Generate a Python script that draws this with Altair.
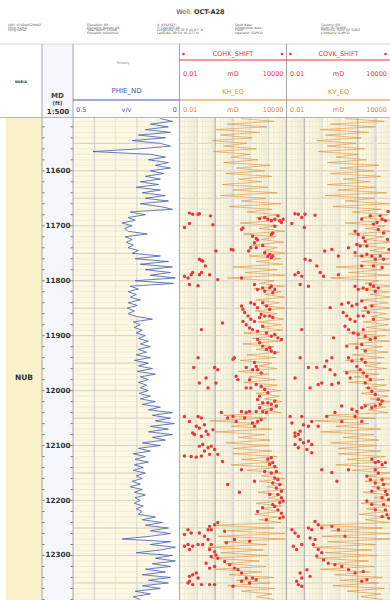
import altair as alt
import pandas as pd

# ---------------------------------------------------------------- data
# Log curves sampled every 5 ft
CURVE_DEPTH = list(range(11505, 12381, 5))

PHIE_ND = [
    0.090, 0.033, 0.137, 0.052, 0.160, 0.042, 0.193, 0.066, 0.222, 0.090,
    0.042, 0.184, 0.406, 0.137, 0.066, 0.146, 0.052, 0.113, 0.042, 0.137,
    0.075, 0.160, 0.090, 0.184, 0.099, 0.203, 0.090, 0.175, 0.066, 0.160,
    0.052, 0.184, 0.090, 0.033, 0.231, 0.160, 0.241, 0.208, 0.269, 0.222,
    0.259, 0.241, 0.151, 0.255, 0.222, 0.250, 0.217, 0.241, 0.193, 0.222,
    0.090, 0.208, 0.052, 0.184, 0.033, 0.160, 0.042, 0.137, 0.019, 0.208,
    0.028, 0.231, 0.193, 0.241, 0.203, 0.231, 0.184, 0.241, 0.198, 0.245,
    0.212, 0.241, 0.203, 0.127, 0.217, 0.184, 0.212, 0.175, 0.203, 0.160,
    0.193, 0.146, 0.184, 0.137, 0.193, 0.155, 0.203, 0.137, 0.212, 0.146,
    0.193, 0.127, 0.198, 0.113, 0.184, 0.146, 0.193, 0.155, 0.184, 0.146,
    0.189, 0.137, 0.184, 0.113, 0.175, 0.090, 0.146, 0.033, 0.127, 0.042,
    0.113, 0.024, 0.137, 0.052, 0.146, 0.033, 0.127, 0.066, 0.175, 0.090,
    0.193, 0.137, 0.217, 0.160, 0.208, 0.146, 0.212, 0.170, 0.217, 0.160,
    0.203, 0.175, 0.222, 0.184, 0.231, 0.175, 0.212, 0.160, 0.208, 0.184,
    0.212, 0.170, 0.203, 0.175, 0.193, 0.113, 0.175, 0.080, 0.160, 0.052,
    0.137, 0.042, 0.137, 0.269, 0.042, 0.137, 0.019, 0.090, 0.203, 0.033,
    0.113, 0.019, 0.127, 0.042, 0.160, 0.066, 0.175, 0.042, 0.146, 0.052,
    0.175, 0.090, 0.208, 0.137, 0.217, 0.184,
]

KH_EQ = [
    30, 2000, 5, 800, 1.2, 300, 2, 120, 0.7, 60,
    3, 200, 0.8, 90, 8, 250, 3, 1200, 15, 600,
    4, 1500, 20, 400, 2.5, 900, 10, 3000, 2, 700,
    30, 5000, 6, 1500, 60, 4000, 200, 6000, 25, 3000,
    300, 8000, 40, 2500, 400, 7000, 100, 3000, 600, 8000,
    80, 5000, 200, 6000, 10, 3000, 50, 8000, 5, 2000,
    300, 8000, 150, 5000, 600, 8000, 200, 4000, 500, 8000,
    180, 3000, 700, 7000, 250, 5000, 400, 6000, 40, 3000,
    120, 5000, 35, 2000, 200, 4000, 60, 2500, 25, 1500,
    300, 3000, 20, 1000, 80, 2500, 40, 3000, 300, 5000,
    200, 4000, 600, 5500, 250, 3000, 500, 5000, 3, 800,
    0.5, 300, 8, 1500, 1, 600, 20, 1200, 4, 1000,
    10, 1500, 10, 3000, 30, 2000, 8, 3300, 60, 5000,
    400, 8000, 300, 6000, 800, 8000, 250, 5000, 1000, 7000,
    200, 5500, 400, 4000, 160, 3000, 300, 5000, 1, 2000,
    5, 8000, 1.5, 8000, 3, 800, 0.4, 500, 2, 900,
    0.6, 300, 4, 700, 1, 400, 6, 2000, 15, 1200,
    5, 2200, 30, 1500, 200, 2000,
]

KV_EQ = [
    20, 3000, 3, 1000, 0.8, 400, 1.5, 150, 0.5, 80,
    2, 250, 0.6, 100, 6, 300, 2, 1500, 10, 800,
    3, 2000, 15, 500, 2, 1000, 8, 4000, 1.5, 900,
    20, 6000, 4, 2000, 50, 5000, 150, 7000, 20, 3500,
    250, 8000, 30, 3000, 300, 8000, 80, 3500, 500, 8000,
    60, 6000, 150, 7000, 6, 2500, 30, 6000, 3, 1500,
    250, 8000, 120, 6000, 500, 8000, 180, 5000, 400, 7000,
    150, 4000, 600, 8000, 200, 5000, 300, 7000, 30, 3500,
    100, 6000, 30, 2500, 150, 5000, 50, 3000, 20, 2000,
    250, 4000, 15, 1500, 60, 3000, 30, 4000, 250, 6000,
    150, 5000, 500, 6000, 200, 3500, 400, 5000, 2, 1000,
    0.4, 400, 6, 2000, 0.8, 800, 15, 1500, 3, 1200,
    8, 2000, 8, 3500, 25, 2500, 6, 4000, 50, 6000,
    300, 8000, 250, 7000, 600, 8000, 200, 6000, 800, 8000,
    150, 6000, 300, 5000, 120, 3500, 250, 6000, 0.6, 2500,
    3, 8000, 1, 8000, 2, 1000, 0.3, 600, 1.5, 1200,
    0.5, 400, 3, 900, 0.8, 500, 5, 2500, 10, 1500,
    4, 3000, 25, 2000, 150, 2500,
]

# Core plug permeability, depth-shifted: [depth ft, mD]
COHK_SHIFT = [
    [11677, 0.036], [11679, 0.055], [11679, 0.11], [11678, 0.13], [11682, 0.55],
    [11703, 0.019], [11696, 0.036], [11698, 0.75], [11707, 30], [11704, 36],
    [11687, 310], [11685, 600], [11688, 900], [11691, 1400], [11688, 2200],
    [11682, 3300], [11691, 4200], [11694, 5200], [11688, 6500], [11701, 2200],
    [11713, 1700], [11716, 1400], [11719, 125], [11723, 200], [11726, 240],
    [11736, 460], [11731, 160], [11740, 100], [11740, 200], [11746, 75],
    [11746, 1.1], [11743, 8], [11744, 10], [11749, 600], [11752, 1150],
    [11755, 1700], [11756, 900], [11758, 1400], [11761, 0.13], [11763, 0.17],
    [11764, 0.2], [11773, 0.28],
    [11792, 0.019], [11795, 0.03], [11789, 0.045], [11785, 0.055], [11789, 0.13],
    [11785, 0.17], [11789, 0.49], [11807, 0.036], [11809, 0.11], [11798, 1.4],
    [11795, 30], [11807, 160], [11816, 240], [11813, 460], [11819, 600],
    [11813, 1150], [11810, 1400], [11822, 1700], [11816, 2200], [11840, 100],
    [11843, 160], [11849, 240], [11840, 460], [11846, 750], [11852, 1150],
    [11846, 30], [11852, 36], [11858, 45], [11864, 70], [11870, 100],
    [11874, 160], [11867, 310], [11861, 380], [11864, 600], [11864, 1150],
    [11867, 1700], [11874, 36], [11880, 55], [11886, 85], [11889, 125],
    [11892, 240], [11883, 460], [11895, 750], [11901, 1400], [11898, 2200],
    [11904, 3300], [11907, 5200], [11907, 240], [11913, 310], [11919, 460],
    [11925, 750], [11922, 1150], [11928, 1400], [11931, 2200], [11877, 2.6],
    [11889, 0.17], [11940, 0.11], [11958, 0.063], [11958, 0.93], [11962, 1.4],
    [11940, 12], [11943, 10], [11974, 15], [11980, 19], [11949, 160],
    [11956, 200], [11962, 240], [11968, 380], [11962, 125], [11958, 55],
    [11980, 85], [11995, 100], [11995, 55], [11989, 200], [11992, 380],
    [11998, 600], [12004, 900], [12010, 310], [12016, 240], [12022, 460],
    [12022, 900], [12025, 1400], [12019, 2200], [12028, 2700], [12034, 1400],
    [12040, 750], [12038, 460], [12031, 310], [12038, 200], [12038, 85],
    [12040, 55], [12038, 30], [11977, 0.31], [11986, 0.13], [11995, 0.4],
    [11986, 1.1], [12047, 0.019], [12056, 0.036], [12047, 0.11], [12050, 0.17],
    [12065, 0.087], [12068, 0.13], [12062, 0.25], [12074, 0.31], [12077, 0.055],
    [12080, 0.07], [12080, 0.4], [12071, 0.75], [12040, 2.2], [12050, 5],
    [12047, 10], [12056, 15], [12050, 45], [12065, 160], [12059, 125],
    [12056, 240], [12053, 380],
    [12083, 0.17], [12101, 0.13], [12098, 0.2], [12104, 0.4], [12101, 0.6],
    [12110, 0.25], [12116, 0.49], [12107, 0.93], [12116, 1.4], [12119, 0.019],
    [12120, 0.045], [12121, 0.087], [12119, 0.17], [12129, 2.6], [12144, 30],
    [12171, 5], [12185, 23], [12165, 160], [12147, 600], [12125, 900],
    [12122, 1400], [12131, 1700], [12138, 2200], [12134, 1150], [12147, 2700],
    [12150, 1400], [12159, 2200], [12162, 3300], [12168, 1700], [12171, 4200],
    [12177, 2700], [12183, 5200], [12189, 3300], [12195, 5200], [12201, 6500],
    [12204, 4200], [12211, 2200], [12217, 3300], [12223, 5200], [12230, 6500],
    [12232, 4200], [12207, 1700], [12189, 1150], [12235, 750], [12213, 460],
    [12220, 240],
    [12240, 1.4], [12244, 0.93], [12247, 0.49], [12253, 0.4], [12253, 0.6],
    [12253, 0.03], [12262, 0.019], [12259, 0.045], [12259, 0.13], [12265, 0.25],
    [12271, 0.4], [12280, 0.2], [12280, 0.11], [12283, 0.055], [12280, 0.03],
    [12283, 0.019], [12289, 0.036], [12280, 0.6], [12293, 0.93], [12289, 0.49],
    [12299, 1.1], [12302, 0.6], [12305, 1.4], [12311, 3.4], [12317, 6.5],
    [12323, 12], [12320, 0.93], [12314, 0.31], [12323, 0.49], [12326, 19],
    [12332, 30], [12341, 55], [12341, 125], [12344, 200], [12350, 85],
    [12347, 30], [12332, 0.087], [12335, 0.055], [12338, 0.036], [12341, 0.11],
    [12350, 0.03], [12353, 0.055], [12347, 0.036], [12353, 0.17], [12353, 0.49],
    [12353, 0.93], [12356, 10], [12256, 3.4], [12277, 4.2], [12271, 12],
    [12274, 85],
]

COVK_SHIFT = [
    [11678, 0.03], [11679, 0.046], [11685, 0.072], [11679, 0.11], [11681, 0.4],
    [11696, 0.02], [11703, 0.1], [11688, 165], [11682, 500], [11682, 1800],
    [11688, 2300], [11691, 3500], [11694, 1200], [11697, 750], [11707, 1400],
    [11713, 2800], [11710, 70], [11716, 105], [11722, 200], [11728, 260],
    [11737, 320], [11734, 88], [11737, 135], [11740, 30], [11755, 8.2],
    [11743, 3.5], [11746, 1.4], [11749, 70], [11755, 165], [11752, 320],
    [11755, 610], [11761, 950], [11755, 1800], [11761, 2800], [11761, 0.11],
    [11763, 0.21], [11773, 0.5], [11773, 165], [11773, 750], [11776, 2300],
    [11674, 5000], [11725, 4600], [11743, 5600],
    [11789, 0.03], [11785, 0.046], [11792, 0.072], [11807, 0.058], [11810, 0.17],
    [11785, 0.78], [11792, 1.2], [11789, 8.2], [11810, 70], [11816, 105],
    [11813, 200], [11816, 320], [11807, 500], [11810, 750], [11819, 950],
    [11813, 1400], [11843, 12.5], [11840, 30], [11846, 47], [11843, 88],
    [11837, 165], [11849, 260], [11846, 610], [11849, 2.8], [11858, 15],
    [11864, 24], [11870, 37], [11874, 70], [11864, 105], [11864, 200],
    [11858, 390], [11870, 750], [11883, 19], [11889, 30], [11895, 57],
    [11898, 105], [11889, 200], [11901, 260], [11907, 500], [11904, 950],
    [11889, 0.072], [11904, 4.3], [11919, 24], [11922, 88], [11916, 165],
    [11928, 260], [11940, 0.058], [11940, 3.5], [11946, 1.8], [11940, 30],
    [11946, 47], [11943, 165], [11949, 260], [11956, 88], [11962, 135],
    [11968, 200], [11974, 320], [11980, 500], [11986, 260], [11995, 390],
    [12001, 610], [12007, 950], [12016, 1400], [12019, 2300], [12025, 1800],
    [12028, 950], [12031, 610], [12028, 260], [12031, 165], [12038, 88],
    [12034, 47], [12028, 12.5], [11971, 5.2], [11986, 8.2], [11989, 3.5],
    [11986, 0.95], [11989, 0.6], [11995, 0.21], [11958, 0.17], [11958, 0.5],
    [11977, 0.03], [11968, 24], [11977, 37], [11956, 1.4], [11962, 2.8],
    [12047, 0.016], [12059, 0.02], [12047, 0.072], [12062, 0.09], [12065, 0.17],
    [12077, 0.03], [12080, 0.046], [12074, 0.058], [12056, 0.26], [12065, 0.6],
    [12047, 1.8], [12040, 5.2], [12056, 12.5], [12047, 70], [12056, 165],
    [12083, 0.03], [12089, 0.058], [12095, 0.09], [12092, 0.17], [12098, 0.26],
    [12098, 0.03], [12104, 0.046], [12107, 0.14], [12113, 0.26], [12144, 0.95],
    [12149, 3.5], [12165, 6.7], [12144, 30], [12125, 610], [12131, 950],
    [12129, 1400], [12135, 2300], [12131, 3500], [12144, 950], [12150, 1400],
    [12156, 320], [12162, 500], [12168, 950], [12162, 2300], [12171, 2800],
    [12177, 1400], [12183, 3500], [12189, 4300], [12198, 5300], [12195, 2300],
    [12207, 2800], [12217, 3500], [12226, 4300], [12232, 5300], [12229, 2300],
    [12217, 950], [12207, 610], [12201, 320], [12183, 610],
    [12238, 0.4], [12244, 0.6], [12250, 0.95], [12253, 0.26], [12250, 0.17],
    [12253, 0.02], [12259, 0.03], [12265, 0.046], [12268, 0.21], [12271, 0.4],
    [12280, 0.072], [12283, 0.024], [12289, 0.037], [12280, 0.32], [12289, 0.6],
    [12295, 0.95], [12301, 0.5], [12308, 1.2], [12314, 2.2], [12317, 5.2],
    [12320, 12.5], [12326, 30], [12332, 70], [12329, 200], [12332, 0.058],
    [12341, 0.072], [12347, 0.037], [12353, 0.046], [12356, 0.072], [12326, 0.14],
    [12338, 0.21], [12247, 3.5], [12253, 8.2], [12265, 19], [12347, 165],
    [12344, 320],
]

# Zonation: name, top, base (ft)
ZONES = [["NUB", 11503, 12450]]

DEPTH_LABELS = [11600, 11700, 11800, 11900, 12000, 12100, 12200, 12300]
DEPTH_TICKS = list(range(11520, 12381, 20))
GRID_MINOR = list(range(11510, 12381, 10))
GRID_MAJOR = list(range(11550, 12381, 50))
PHIE_GRID = [0.4, 0.3, 0.2, 0.1]
LOG_DECADES = [0.1, 1, 10, 100, 1000]
LOG_MINOR = [m * 10.0 ** k for k in range(-2, 4) for m in range(2, 10)]

WELL_NAME = "OCT-A28"
HEADER_INFO = [
    ["UWI: 0702A0520002", "Short name:", "Long name:"],
    ["Elevation: 88", "Elevation datum: KB", "Total depth: 16000", "Elevation reference:"],
    ["X: 0342523", "Y: 3201995.08", "Longitude: 33.78' E 45.97\" N", "Latitude: 28°50' 05.277 N"],
    ["Spud date:", "Completion date:", "Field:", "Operator: GUPCO"],
    ["Country: EG", "Field: OCTOBER", "Province: GULF OF SUEZ", "Company: GUPCO"],
]

# ---------------------------------------------------------------- layout
W, H = 390, 600
HEAD_TOP, TOP, BOTTOM = 44, 117.5, 600
X_ZONE = (6, 42)
X_MD = (42, 73)
X_PHIE = (73, 179.5)
X_KH = (179.5, 286.5)
X_KV = (286.5, 393.5)
DEPTH_DOMAIN = [11503, 12381]

FONT = "DejaVu Sans"
RED = "#e8363c"
ORANGE = "#dc8c2c"
CURVE_ORANGE = "#e0933a"
BLUE = "#3d5cb5"
GRID_LIGHT = "#e7e2c9"
GRID_MID = "#cfcdc4"

one = pd.DataFrame({"k": [0]})
curves = pd.DataFrame({"depth": CURVE_DEPTH, "phie": PHIE_ND, "kh": KH_EQ, "kv": KV_EQ})
kh_core = pd.DataFrame(COHK_SHIFT, columns=["depth", "perm"])
kv_core = pd.DataFrame(COVK_SHIFT, columns=["depth", "perm"])
zones = pd.DataFrame(ZONES, columns=["zone", "top", "base"])


def depth_y(field="depth"):
    return alt.Y(f"{field}:Q", axis=None,
                 scale=alt.Scale(domain=DEPTH_DOMAIN, range=[TOP, BOTTOM], zero=False, nice=False))


def phie_x(field="phie"):
    return alt.X(f"{field}:Q", axis=None,
                 scale=alt.Scale(domain=[0, 0.5], range=[X_PHIE[1], X_PHIE[0]], zero=False, nice=False))


def perm_x(field, track):
    return alt.X(f"{field}:Q", axis=None,
                 scale=alt.Scale(type="log", domain=[0.01, 10000], range=list(track), nice=False))


def box(x1, x2, y1, y2, fill):
    return alt.Chart(one).mark_rect(color=fill).encode(
        x=alt.value(x1), x2=alt.value(x2), y=alt.value(y1), y2=alt.value(y2))


def hline(y, x1, x2, color, width=1.0):
    return alt.Chart(one).mark_rule(color=color, strokeWidth=width).encode(
        x=alt.value(x1), x2=alt.value(x2), y=alt.value(y))


def vline(x, y1, y2, color, width=1.0):
    return alt.Chart(one).mark_rule(color=color, strokeWidth=width).encode(
        x=alt.value(x), y=alt.value(y1), y2=alt.value(y2))


def txt(x, y, s, size=6.5, color="#333333", weight="normal", align="center"):
    return alt.Chart(one).mark_text(
        text=s, fontSize=size, color=color, fontWeight=weight, align=align,
        baseline="middle", font=FONT).encode(x=alt.value(x), y=alt.value(y))


layers = []

# ---- backgrounds
layers.append(box(X_MD[0], X_MD[1], HEAD_TOP, BOTTOM, "#f6f7fb"))
layers.append(box(X_PHIE[0], W, TOP, BOTTOM, "#fcf8e4"))
layers.append(
    alt.Chart(zones).mark_rect(color="#f9f1c9").encode(
        x=alt.value(X_ZONE[0]), x2=alt.value(X_ZONE[1]),
        y=depth_y("top"), y2=alt.Y2("base:Q"))
)

# ---- horizontal depth grid across the log tracks
for vals, color, width in [(GRID_MINOR, GRID_LIGHT, 0.6), (GRID_MAJOR, GRID_MID, 0.8)]:
    layers.append(
        alt.Chart(pd.DataFrame({"depth": vals})).mark_rule(color=color, strokeWidth=width).encode(
            y=depth_y(), x=alt.value(X_PHIE[0]), x2=alt.value(W))
    )

# ---- vertical grids
phie_grid = pd.DataFrame({"phie": PHIE_GRID, "c": ["#bdbdbd", GRID_LIGHT, "#cdcdcd", GRID_LIGHT]})
layers.append(
    alt.Chart(phie_grid).mark_rule(strokeWidth=0.8).encode(
        x=phie_x(), y=alt.value(TOP), y2=alt.value(BOTTOM),
        color=alt.Color("c:N", scale=None))
)
for track, strong, band in [(X_KH, [1], [10]), (X_KV, [0.1, 100], [1000])]:
    layers.append(
        alt.Chart(pd.DataFrame({"v": LOG_MINOR})).mark_rule(color=GRID_LIGHT, strokeWidth=0.6).encode(
            x=perm_x("v", track), y=alt.value(TOP), y2=alt.value(BOTTOM))
    )
    layers.append(
        alt.Chart(pd.DataFrame({"v": LOG_DECADES})).mark_rule(color="#d6d4cb", strokeWidth=0.8).encode(
            x=perm_x("v", track), y=alt.value(TOP), y2=alt.value(BOTTOM))
    )
    layers.append(
        alt.Chart(pd.DataFrame({"v": band})).mark_rule(color="#dcdcdc", strokeWidth=2.5).encode(
            x=perm_x("v", track), y=alt.value(TOP), y2=alt.value(BOTTOM))
    )
    layers.append(
        alt.Chart(pd.DataFrame({"v": strong})).mark_rule(color="#b0b0b0", strokeWidth=1).encode(
            x=perm_x("v", track), y=alt.value(TOP), y2=alt.value(BOTTOM))
    )

# ---- porosity: white shading from the curve to 0, then the curve
layers.append(
    alt.Chart(curves).mark_area(orient="horizontal", color="white", opacity=1).encode(
        y=depth_y(), x=phie_x(), x2=alt.datum(0))
)
layers.append(
    alt.Chart(curves).mark_line(color=BLUE, strokeWidth=0.8).encode(
        y=depth_y(), x=phie_x(), order=alt.Order("depth:Q"))
)

# ---- equivalent permeability curves
for field, track in [("kh", X_KH), ("kv", X_KV)]:
    layers.append(
        alt.Chart(curves).mark_line(color=CURVE_ORANGE, strokeWidth=0.8, opacity=0.8).encode(
            y=depth_y(), x=perm_x(field, track), order=alt.Order("depth:Q"))
    )

# ---- core permeability points
for df, track in [(kh_core, X_KH), (kv_core, X_KV)]:
    layers.append(
        alt.Chart(df).mark_circle(color=RED, size=12, opacity=1).encode(
            y=depth_y(), x=perm_x("perm", track))
    )

# ---- depth track ticks and labels
ticks = pd.DataFrame({"depth": DEPTH_TICKS})
for a, b in [(X_MD[0], X_MD[0] + 2.5), (X_MD[1] - 2.5, X_MD[1])]:
    layers.append(
        alt.Chart(ticks).mark_rule(color="#555555", strokeWidth=0.8).encode(
            y=depth_y(), x=alt.value(a), x2=alt.value(b))
    )
layers.append(
    alt.Chart(pd.DataFrame({"depth": DEPTH_LABELS})).mark_text(
        fontSize=7.2, fontWeight="bold", color="#333333", font=FONT, baseline="middle").encode(
        y=depth_y(), x=alt.value((X_MD[0] + X_MD[1]) / 2 + 0.5),
        text=alt.Text("depth:Q", format="d"))
)

# ---- zone label
layers.append(
    alt.Chart(zones).transform_calculate(mid="(datum.top + datum.base) / 2").mark_text(
        fontSize=7.5, fontWeight="bold", color="#333333", font=FONT, baseline="middle").encode(
        y=depth_y("mid"), x=alt.value((X_ZONE[0] + X_ZONE[1]) / 2), text="zone:N")
)

# ---- frame lines
layers.append(hline(HEAD_TOP, 0, W, "#d9d9d9", 1))
layers.append(hline(TOP, 0, W, "#b5b5b5", 1))
for x in [X_ZONE[1], X_MD[1], X_PHIE[1], X_KH[1]]:
    layers.append(vline(x, HEAD_TOP, BOTTOM, "#a6a6a6", 1))

# ---- page title and well information
layers.append(txt(192, 12, "Well:", 6.5, "#444444", "normal", "right"))
layers.append(txt(194, 12, WELL_NAME, 6.5, "#333333", "bold", "left"))
col_x = [8, 87, 157, 235, 321]
for cx, col in zip(col_x, HEADER_INFO):
    for i, line in enumerate(col):
        layers.append(txt(cx, 24.6 + i * 2.9, line, 3.2, "#555555", "normal", "left"))

# ---- track headers
layers.append(txt(21, 81.5, "NUBIA", 3.4, "#333333", "bold"))
layers.append(txt(57.5, 96.0, "MD", 7, "#444444", "bold"))
layers.append(txt(57.5, 103.2, "(ft)", 5.5, "#444444", "bold"))
layers.append(txt(58, 111.5, "1:500", 7, "#333333", "bold"))

layers.append(txt(123, 63, "Porosity", 3.2, "#777777"))
layers.append(txt(126.5, 91, "PHIE_ND", 7, BLUE))
layers.append(hline(100, X_PHIE[0], X_PHIE[1], BLUE, 1))
layers.append(txt(76, 110, "0.5", 6.5, BLUE, "normal", "left"))
layers.append(txt(126.5, 110, "v/v", 6.5, BLUE))
layers.append(txt(177, 110, "0", 6.5, BLUE, "normal", "right"))

for (x0, x1), center, core, eq in [(X_KH, 233, "COHK_SHIFT", "KH_EQ"),
                                   ((X_KV[0], W), 338.5, "COVK_SHIFT", "KV_EQ")]:
    layers.append(
        alt.Chart(one).mark_circle(color=RED, size=7, opacity=1).encode(
            x=alt.value(x0 + 4), y=alt.value(54))
    )
    layers.append(
        alt.Chart(one).mark_circle(color=RED, size=7, opacity=1).encode(
            x=alt.value(x1 - 4.5), y=alt.value(54))
    )
    layers.append(txt(center, 54, core, 6.5, RED))
    layers.append(hline(60, x0, x1, RED, 1))
    layers.append(txt(x0 + 3.5, 73.5, "0.01", 6.5, RED, "normal", "left"))
    layers.append(txt(center, 73.5, "mD", 6.5, RED))
    layers.append(txt(x1 - 3, 73.5, "10000", 6.5, RED, "normal", "right"))
    layers.append(txt(center, 91.5, eq, 6.5, ORANGE))
    layers.append(hline(100, x0, x1, ORANGE, 1))
    layers.append(txt(x0 + 3.5, 110, "0.01", 6.5, ORANGE, "normal", "left"))
    layers.append(txt(center, 110, "mD", 6.5, ORANGE))
    layers.append(txt(x1 - 3, 110, "10000", 6.5, ORANGE, "normal", "right"))

chart = (
    alt.layer(*layers)
    .resolve_scale(x="independent", y="independent", color="independent")
    .properties(width=W, height=H, padding=0, autosize=alt.AutoSizeParams(type="none"),
                background="white")
    .configure_view(stroke=None)
)

chart.save("out.html", embed_options={"renderer": "svg", "actions": False})
